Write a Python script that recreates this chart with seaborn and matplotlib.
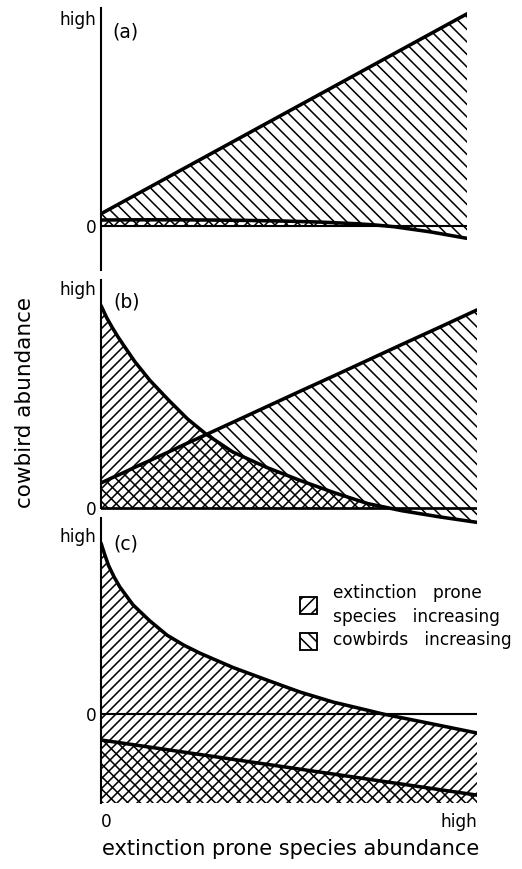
import matplotlib
matplotlib.use('Agg')  # no display in the sandbox
import matplotlib.pyplot as plt
import seaborn as sns
import numpy as np
from matplotlib.patches import Rectangle

# x is extinction prone species abundance (0 .. high = 0 .. 1)
# y is cowbird abundance (0 .. high = 0 .. 1)

# (a) cowbird isocline well above the extinction-prone isocline
xa = [0, 0.1, 0.2, 0.3, 0.4, 0.5, 0.6, 0.7, 0.75, 0.8, 0.9, 1.0]
ext_a = [0.03, 0.031, 0.031, 0.03, 0.028, 0.025, 0.02, 0.012, 0.006, -0.002, -0.027, -0.058]
cow_a = [0.06, 0.156, 0.252, 0.348, 0.444, 0.54, 0.636, 0.732, 0.78, 0.828, 0.924, 1.02]

# (b) the two isoclines cross
xb = [0, 0.015, 0.03, 0.045, 0.06, 0.09, 0.13, 0.18, 0.23, 0.28, 0.35, 0.44, 0.53, 0.62, 0.71, 0.8, 0.9, 1.0]
ext_b = [0.92, 0.865, 0.82, 0.778, 0.74, 0.665, 0.58, 0.49, 0.405, 0.335, 0.255, 0.185, 0.125, 0.07, 0.02, -0.012, -0.04, -0.065]
cow_b = [0.114, 0.126, 0.138, 0.149, 0.161, 0.185, 0.216, 0.255, 0.295, 0.334, 0.389, 0.46, 0.531, 0.601, 0.672, 0.743, 0.821, 0.9]

# (c) cowbird isocline below zero
xc = [0, 0.01, 0.02, 0.035, 0.05, 0.085, 0.13, 0.176, 0.22, 0.263, 0.351, 0.441, 0.529, 0.617, 0.707, 0.75, 0.85, 1.0]
ext_c = [0.955, 0.89, 0.83, 0.765, 0.71, 0.61, 0.52, 0.44, 0.385, 0.34, 0.26, 0.19, 0.123, 0.067, 0.022, 0.0, -0.042, -0.106]
xc_cow = [0, 1.0]
cow_c = [-0.145, -0.453]

panel_labels = ['(a)', '(b)', '(c)']
y_tick_labels = ['0', 'high']
x_tick_labels = ['0', 'high']
legend_labels = ['extinction   prone\nspecies   increasing', 'cowbirds   increasing']

sns.set_theme(style='white')
plt.rcParams['font.family'] = ['DejaVu Sans']
plt.rcParams['hatch.linewidth'] = 0.75
plt.rcParams['hatch.color'] = 'black'

W, H, DPI = 522, 869, 150
fig = plt.figure(figsize=(W / DPI, H / DPI), dpi=DPI)

HATCH_EXT = '/' * 5      # extinction prone species increasing
HATCH_COW = '\\' * 4     # cowbirds increasing


def px_axes(left, top, right, bottom):
    # axes box given in pixels of the final image
    return fig.add_axes([left / W, 1 - bottom / H, (right - left) / W, (bottom - top) / H])


def style_axes(ax, ylim, label, spine_top=None):
    ax.set_xlim(0, 1)
    ax.set_ylim(*ylim)
    for side in ['top', 'right', 'bottom']:
        ax.spines[side].set_visible(False)
    ax.spines['left'].set_color('black')
    ax.spines['left'].set_linewidth(1.0)
    ax.spines['left'].set_zorder(5)
    if spine_top is not None:
        ax.spines['left'].set_bounds(0, spine_top)
    ax.set_facecolor('none')
    ax.set_yticks([0, 1], labels=y_tick_labels)
    ax.set_xticks([])
    ax.tick_params(axis='y', length=0, pad=2, labelsize=8.2, labelcolor='black')
    ax.text(0.032, 0.91, label, transform=ax.transAxes, fontsize=9,
            va='center', ha='left', color='black')
    ax.grid(False)


def iso_line(ax, x, y, lw=1.7):
    sns.lineplot(x=x, y=y, ax=ax, color='black', linewidth=lw, sort=False,
                 estimator=None, legend=False, zorder=4)


fill_kw = dict(facecolor='none', edgecolor='black', linewidth=0)

# ---- panel (a)
ax_a = px_axes(101, 8, 467, 270)
ea, ca = np.array(ext_a), np.array(cow_a)
ax_a.fill_between(xa, np.minimum(ea, 0), ca, hatch=HATCH_COW, **fill_kw)
ax_a.fill_between(xa, 0, np.maximum(ea, 0), hatch=HATCH_EXT, **fill_kw)
ax_a.axhline(0, color='black', lw=1.0, zorder=3)
iso_line(ax_a, xa, ext_a)
iso_line(ax_a, xa, cow_a)
style_axes(ax_a, (-0.21, 1.048), panel_labels[0])

# ---- panel (b)
ax_b = px_axes(101, 280, 477, 525)
eb, cb = np.array(ext_b), np.array(cow_b)
ax_b.fill_between(xb, np.minimum(eb, 0), cb, hatch=HATCH_COW, **fill_kw)
ax_b.fill_between(xb, 0, np.maximum(eb, 0), hatch=HATCH_EXT, **fill_kw)
ax_b.axhline(0, color='black', lw=1.3, zorder=3)
iso_line(ax_b, xb, ext_b)
iso_line(ax_b, xb, cow_b)
style_axes(ax_b, (-0.077, 1.036), panel_labels[1], spine_top=1.036)

# ---- panel (c)
ax_c = px_axes(101, 518, 477, 803)
c_bottom = -0.497
ax_c.fill_between(xc, c_bottom, ext_c, hatch=HATCH_EXT, **fill_kw)
ax_c.fill_between(xc_cow, c_bottom, cow_c, hatch=HATCH_COW, **fill_kw)
ax_c.axhline(0, color='black', lw=1.0, zorder=3)
iso_line(ax_c, xc, ext_c)
iso_line(ax_c, xc_cow, cow_c)
style_axes(ax_c, (c_bottom, 1.095), panel_labels[2])
ax_c.set_xticks([0, 1], labels=x_tick_labels)
ax_c.tick_params(axis='x', length=0, pad=5, labelsize=8.2, labelcolor='black')
for lab, ha in zip(ax_c.get_xticklabels(), ['left', 'right']):
    lab.set_ha(ha)

# ---- legend drawn by hand, as in the original figure
for (bx, by), hatch in zip([(300, 597), (300, 633)], ['/' * 4, '\\' * 4]):
    fig.add_artist(Rectangle((bx / W, 1 - (by + 17) / H), 17 / W, 17 / H,
                             transform=fig.transFigure, facecolor='none',
                             edgecolor='black', linewidth=0.9, hatch=hatch))
fig.text(333 / W, 1 - 605 / H, legend_labels[0], fontsize=8.2, va='center', ha='left',
         linespacing=1.45, color='black')
fig.text(333 / W, 1 - 640 / H, legend_labels[1], fontsize=8.2, va='center', ha='left',
         color='black')

# ---- shared axis titles
fig.text(291 / W, 1 - 849 / H, 'extinction prone species abundance', fontsize=10,
         ha='center', va='center', color='black')
fig.text(25 / W, 1 - 402 / H, 'cowbird abundance', fontsize=10.3, rotation=90,
         ha='center', va='center', color='black')

fig.savefig('out.png', dpi=DPI)
plt.close(fig)
